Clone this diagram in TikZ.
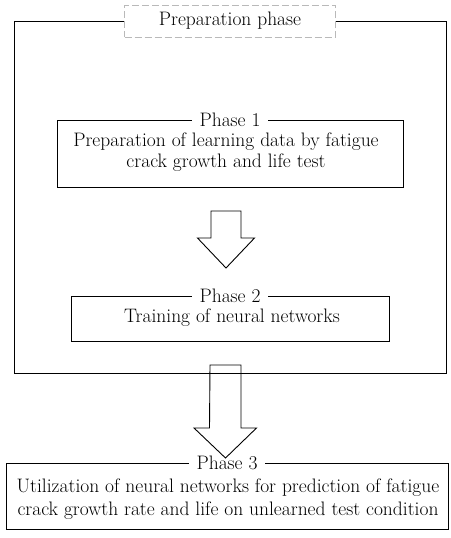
\documentclass[tikz,border=0pt]{standalone}
\begin{document}
\begin{tikzpicture}[x=1pt,y=-1pt, line width=0.9pt,
  every node/.style={font=\fontsize{19.5}{21.5}\selectfont},
  framebox/.style={draw, rectangle, inner sep=0pt},
  phasetitle/.style={fill=white, inner xsep=8pt, inner ysep=1pt},
  bodytext/.style={align=center, inner sep=0pt},
  blockarrow/.style={draw, line join=miter}]
\useasboundingbox (0,0) rectangle (450,538);
% outer preparation frame
\node[framebox, minimum width=432pt, minimum height=352pt] (outer) at (230,197) {};
\node[draw=gray!55, dashed, dash pattern=on 7pt off 3pt, fill=white, line width=0.6pt,
      minimum width=211pt, minimum height=32pt, inner sep=0pt] (prep) at (230,21) {Preparation phase};
% phase 1
\node[framebox, minimum width=346pt, minimum height=67pt] (p1) at (230,153.5) {};
\node[phasetitle] (p1t) at (p1.north) {Phase 1};
\node[bodytext] (p1x) at (226,152) {Preparation of learning data by fatigue\\crack growth and life test};
% phase 2
\node[framebox, minimum width=318pt, minimum height=45pt] (p2) at (230,318.5) {};
\node[phasetitle] (p2t) at (p2.north) {Phase 2};
\node[bodytext] (p2x) at (232,318) {Training of neural networks};
% phase 3
\node[framebox, minimum width=442pt, minimum height=66pt] (p3) at (227,496) {};
\node[phasetitle] (p3t) at (p3.north) {Phase 3};
\node[bodytext, font=\fontsize{19.5}{23}\selectfont] (p3x) at (228,499) {Utilization of neural networks for prediction of fatigue\\crack growth rate and life on unlearned test condition};
% block arrow 1
\coordinate (a1) at (226,211);
\coordinate (a1tip) at (226,268);
\draw[blockarrow] (a1) ++(-15,0) -- ++(30,0) -- ++(0,27) -- ++(13.5,0) -- (a1tip) -- ++(-28.5,-30) -- ++(13.5,0) -- cycle;
% block arrow 2
\coordinate (a2) at (225.5,365);
\coordinate (a2tip) at (225.5,458);
\draw[blockarrow] (a2) ++(-15.5,0) -- ++(31,0) -- ++(0,63) -- ++(15.5,0) -- (a2tip) -- ++(-31.5,-30) -- ++(15.5,0) -- cycle;
\end{tikzpicture}
\end{document}
